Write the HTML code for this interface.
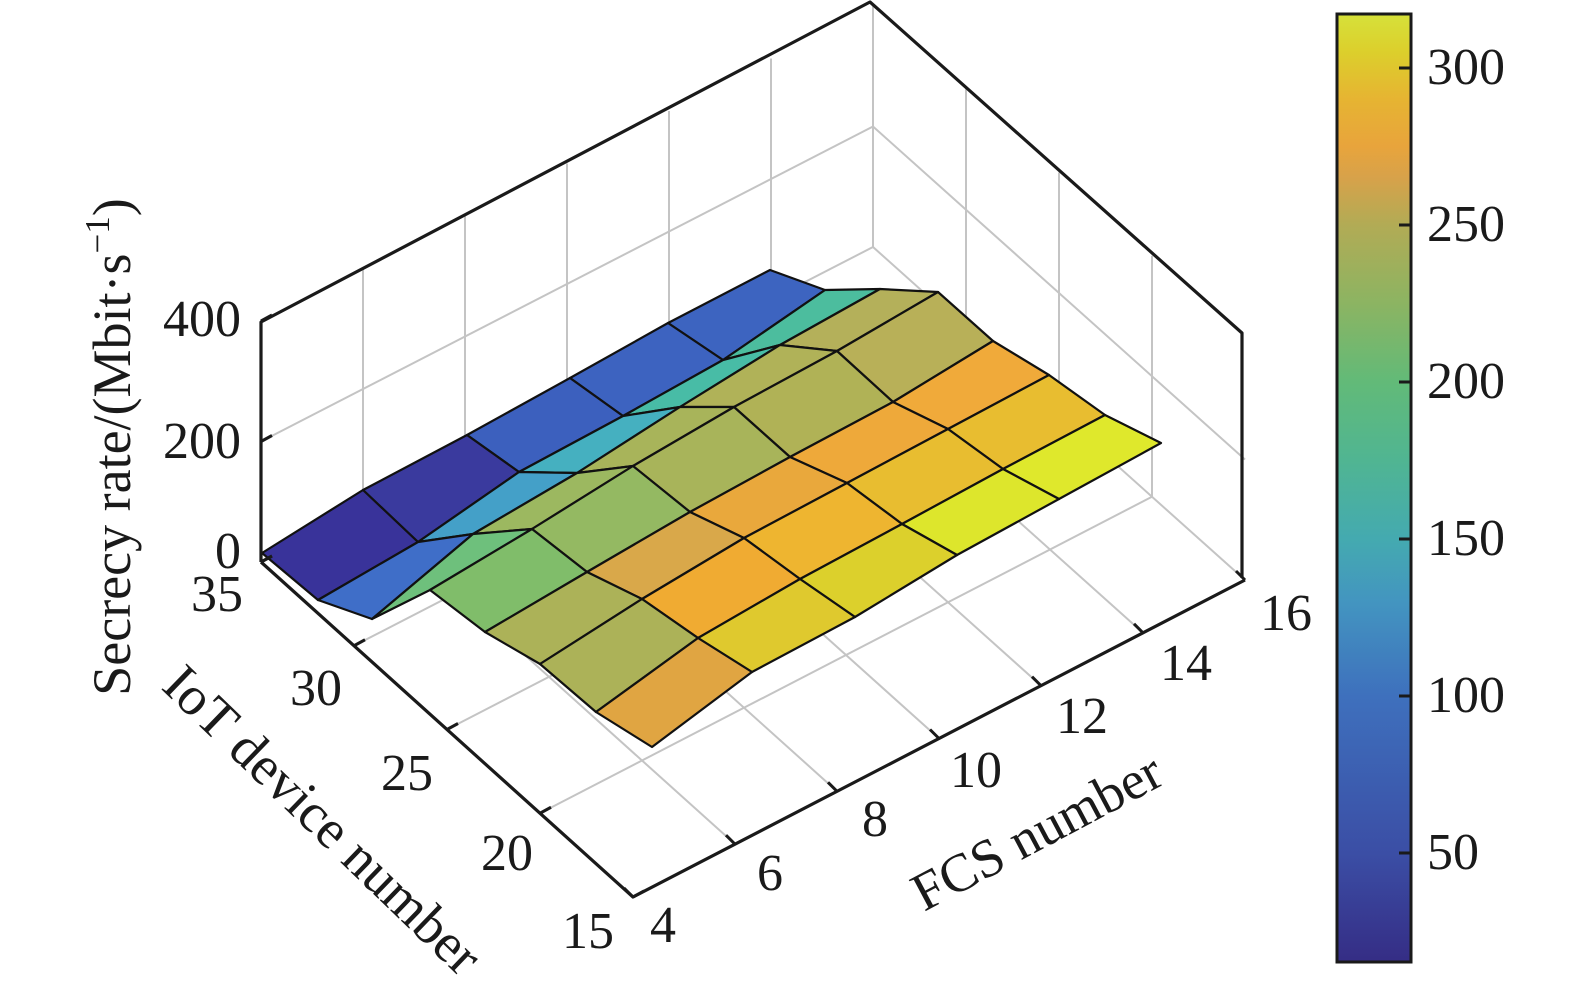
<!DOCTYPE html>
<html><head><meta charset="utf-8"><style>
html,body{margin:0;padding:0;background:#fff;}
svg{display:block;}
text{font-family:"Liberation Serif","DejaVu Serif",serif;fill:#1a1a1a;}
</style></head><body>
<svg id="s" width="1575" height="987" viewBox="0 0 1575 987" xmlns="http://www.w3.org/2000/svg">
<defs>
<linearGradient id="cb" x1="0" y1="1" x2="0" y2="0">
<stop offset="0" stop-color="#352d85"/>
<stop offset="0.114" stop-color="#3b4ea5"/>
<stop offset="0.28" stop-color="#3e70bd"/>
<stop offset="0.38" stop-color="#4395c0"/>
<stop offset="0.446" stop-color="#44aab0"/>
<stop offset="0.529" stop-color="#50b592"/>
<stop offset="0.612" stop-color="#62ba78"/>
<stop offset="0.695" stop-color="#8cb462"/>
<stop offset="0.778" stop-color="#b2ab55"/>
<stop offset="0.827" stop-color="#d7a24a"/>
<stop offset="0.86" stop-color="#e8a43c"/>
<stop offset="0.91" stop-color="#e6b432"/>
<stop offset="0.96" stop-color="#dccf2c"/>
<stop offset="1" stop-color="#d6e13a"/>
</linearGradient>
</defs>
<g id="grid" stroke="#c4c4c4" stroke-width="2" fill="none"></g>
<g id="surf" stroke="#111" stroke-width="2.2" stroke-linejoin="round"></g>
<g id="box" stroke="#1a1a1a" stroke-width="3.2" fill="none" stroke-linejoin="round"></g>
<g id="ticks" stroke="#1a1a1a" stroke-width="3" fill="none"></g>

<rect x="1337" y="14" width="74" height="948" fill="url(#cb)" stroke="#1a1a1a" stroke-width="3"/>
<g stroke="#1a1a1a" stroke-width="3">
<line x1="1399" y1="68" x2="1411" y2="68"/>
<line x1="1399" y1="225" x2="1411" y2="225"/>
<line x1="1399" y1="382" x2="1411" y2="382"/>
<line x1="1399" y1="539" x2="1411" y2="539"/>
<line x1="1399" y1="696" x2="1411" y2="696"/>
<line x1="1399" y1="853" x2="1411" y2="853"/>
</g>
<g font-size="52">
<text x="1427" y="84">300</text>
<text x="1427" y="241">250</text>
<text x="1427" y="398">200</text>
<text x="1427" y="555">150</text>
<text x="1427" y="712">100</text>
<text x="1427" y="869">50</text>
</g>

<g font-size="52" text-anchor="end">
<text x="241" y="336">400</text>
<text x="241" y="458">200</text>
<text x="241" y="568">0</text>
<text x="243" y="611">35</text>
<text x="342" y="705">30</text>
<text x="433" y="790">25</text>
<text x="533" y="870">20</text>
<text x="614" y="948">15</text>
</g>
<g font-size="52">
<text x="650" y="942">4</text>
<text x="757" y="890">6</text>
<text x="862" y="836">8</text>
<text x="950" y="787">10</text>
<text x="1056" y="733">12</text>
<text x="1160" y="680">14</text>
<text x="1260" y="630">16</text>
</g>
<text font-size="54" text-anchor="middle" transform="translate(130,447) rotate(-90)">Secrecy rate/(Mbit·s<tspan font-size="35" dy="-21">−1</tspan><tspan dy="21">)</tspan></text>
<text font-size="55" transform="translate(160,688) rotate(44)">IoT device number</text>
<text font-size="54" transform="translate(924,912) rotate(-28)">FCS number</text>
</svg>
<script>
(function(){
var NS="http://www.w3.org/2000/svg";
function el(p,t,a){var e=document.createElementNS(NS,t);for(var k in a)e.setAttribute(k,a[k]);p.appendChild(e);return e;}
var F=[633,897],R=[1245,580],B=[873,247],L=[261,562];
function P(f,d,z){var u=(f-4)/12,v=(d-15)/20;z=z||0;
 var x=(1-u)*(1-v)*F[0]+u*(1-v)*R[0]+u*v*B[0]+(1-u)*v*L[0];
 var y=(1-u)*(1-v)*F[1]+u*(1-v)*R[1]+u*v*B[1]+(1-u)*v*L[1];
 return [x,y-z*0.6025];}
var g=document.getElementById('grid');
function ln(p,a,b){el(p,'line',{x1:a[0],y1:a[1],x2:b[0],y2:b[1]});}
for(var f=6;f<=14;f+=2)ln(g,P(f,15),P(f,35));
for(var d=20;d<=30;d+=5)ln(g,P(4,d),P(16,d));
ln(g,P(4,35),P(16,35));ln(g,P(16,35),P(16,15));
for(var f=6;f<=16;f+=2)ln(g,P(f,35,0),P(f,35,400));
ln(g,P(4,35,200),P(16,35,200));
for(var d=20;d<=30;d+=5)ln(g,P(16,d,0),P(16,d,400));
ln(g,P(16,15,200),P(16,35,200));
var V=[
[[262,553],[363,490],[467,435],[570,378],[668,323],[770,270]],
[[318,600],[418,542],[519,472],[623,416],[723,360],[825,290]],
[[372,619],[473,534],[577,473],[680,407],[780,345],[880,289]],
[[430,590],[532,529],[633,466],[734,407],[837,351],[938,292]],
[[485,632],[587,572],[690,512],[790,457],[893,402],[993,341]],
[[540,664],[642,599],[744,538],[847,483],[948,429],[1049,375]],
[[596,712],[698,638],[800,579],[902,524],[1003,469],[1105,415]],
[[652,747],[752,672],[855,617],[957,555],[1059,499],[1161,443]]];
var C=[
["#39339a","#3a3a9e","#3c60be","#3d63c0","#3d64c0"],
["#3f6ec8","#44a0c8","#45b0c0","#48bca6","#4cbd9e"],
["#6ec07c","#9cb860","#a8b45a","#b0b258","#b4b05a"],
["#80bd6a","#94b962","#a8b45a","#b0b256","#b8b058"],
["#acb258","#d9a84a","#e9a83c","#eea93a","#f0aa3a"],
["#acb258","#f0ab32","#eeb530","#e8bd30","#e8bd30"],
["#e0a542","#dfc92e","#dcd02c","#dde62c","#dfe82c"]];
var s=document.getElementById('surf');
for(var i=0;i<7;i++)for(var j=4;j>=0;j--){
 var pts=[V[i][j],V[i][j+1],V[i+1][j+1],V[i+1][j]].map(function(p){return p.join(',');}).join(' ');
 el(s,'polygon',{points:pts,fill:C[i][j]});}
var b=document.getElementById('box');
el(b,'polyline',{points:[[261,562],[261,322],[870,2],[1242,333],[1242,578]].join(' ')});
el(b,'polyline',{points:[L,F,R].join(' ')});
var t=document.getElementById('ticks');
[0,200,400].forEach(function(z){var a=P(4,35,z);ln(t,a,[a[0]+11,a[1]-6]);});
for(var d=15;d<=35;d+=5){var a=P(4,d);ln(t,a,[a[0]+11,a[1]-6]);}
for(var f=4;f<=16;f+=2){var a=P(f,15);ln(t,a,[a[0]-9,a[1]-9]);}
})();
</script>
</body></html>
